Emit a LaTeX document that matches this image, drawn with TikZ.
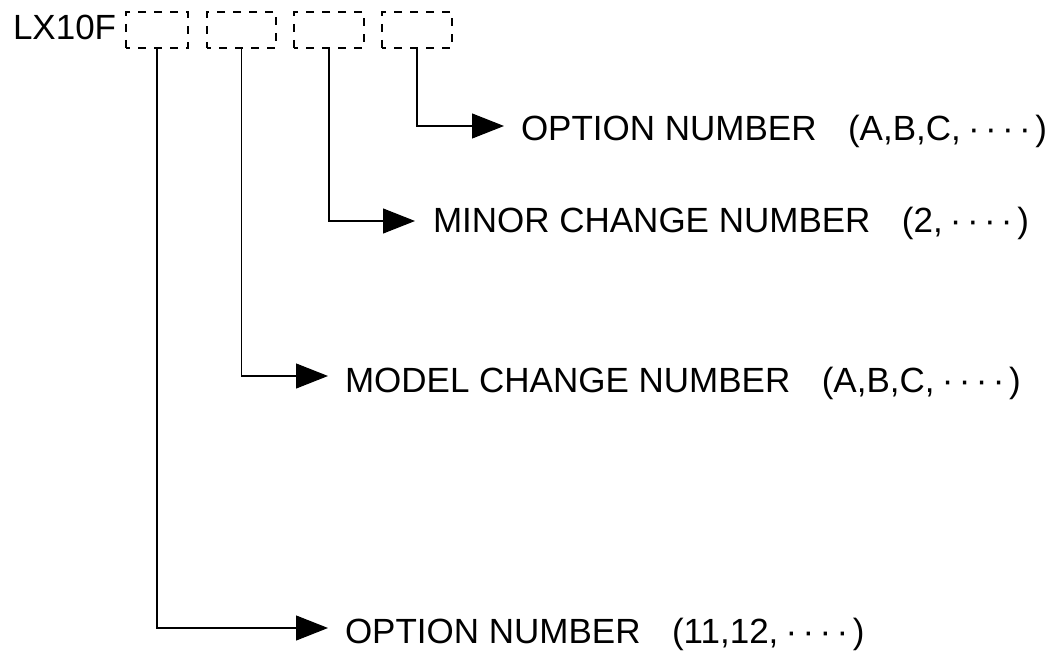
\documentclass[tikz,border=0pt]{standalone}
\usepackage{fontspec}
\setmainfont{Liberation Sans}
\usetikzlibrary{arrows.meta}
\newcommand\mydots{\hspace{4.5pt}\makebox[17pt]{·}\makebox[17pt]{·}\makebox[17pt]{·}\makebox[17pt]{·}\hspace{2pt}}
\newcommand\pgap{\hspace{31.5pt}}
\tikzset{
  dbox/.style={draw, line width=1.2pt, dash pattern=on 8pt off 8pt, dash phase=4pt, minimum height=36pt, inner sep=0pt, outer sep=0pt},
  lbl/.style={anchor=base west, inner sep=0pt, outer sep=0pt, font=\fontsize{35pt}{42pt}\selectfont},
  conn/.style={line width=1.1pt, -{Triangle[length=32pt, width=25pt]}},
}
\begin{document}
\begin{tikzpicture}[x=1pt, y=-1pt]
\useasboundingbox (0,0) rectangle (1054,652);
\node[lbl] (lx) at (13,40) {LX10F};
\node[dbox, minimum width=62pt] (b1) at (157,30) {};
\node[dbox, minimum width=69pt] (b2) at (241.5,30) {};
\node[dbox, minimum width=70pt] (b3) at (329,30) {};
\node[dbox, minimum width=70pt] (b4) at (417,30) {};
\coordinate (t4) at (504,126);
\coordinate (t3) at (415,221);
\coordinate (t2) at (328,376);
\coordinate (t1) at (328,628);
\node[lbl] (l4) at (521,141) {OPTION NUMBER\pgap(A,B,C,\mydots)};
\node[lbl] (l3) at (433,233) {MINOR CHANGE NUMBER\pgap(2,\mydots)};
\node[lbl] (l2) at (345,392) {MODEL CHANGE NUMBER\pgap(A,B,C,\mydots)};
\node[lbl] (l1) at (345,643) {OPTION NUMBER\pgap(11,12,\mydots)};
\draw[conn] (b4.south) |- (t4);
\draw[conn] (b3.south) |- (t3);
\draw[conn] (b2.south) |- (t2);
\draw[conn] (b1.south) |- (t1);
\end{tikzpicture}
\end{document}
